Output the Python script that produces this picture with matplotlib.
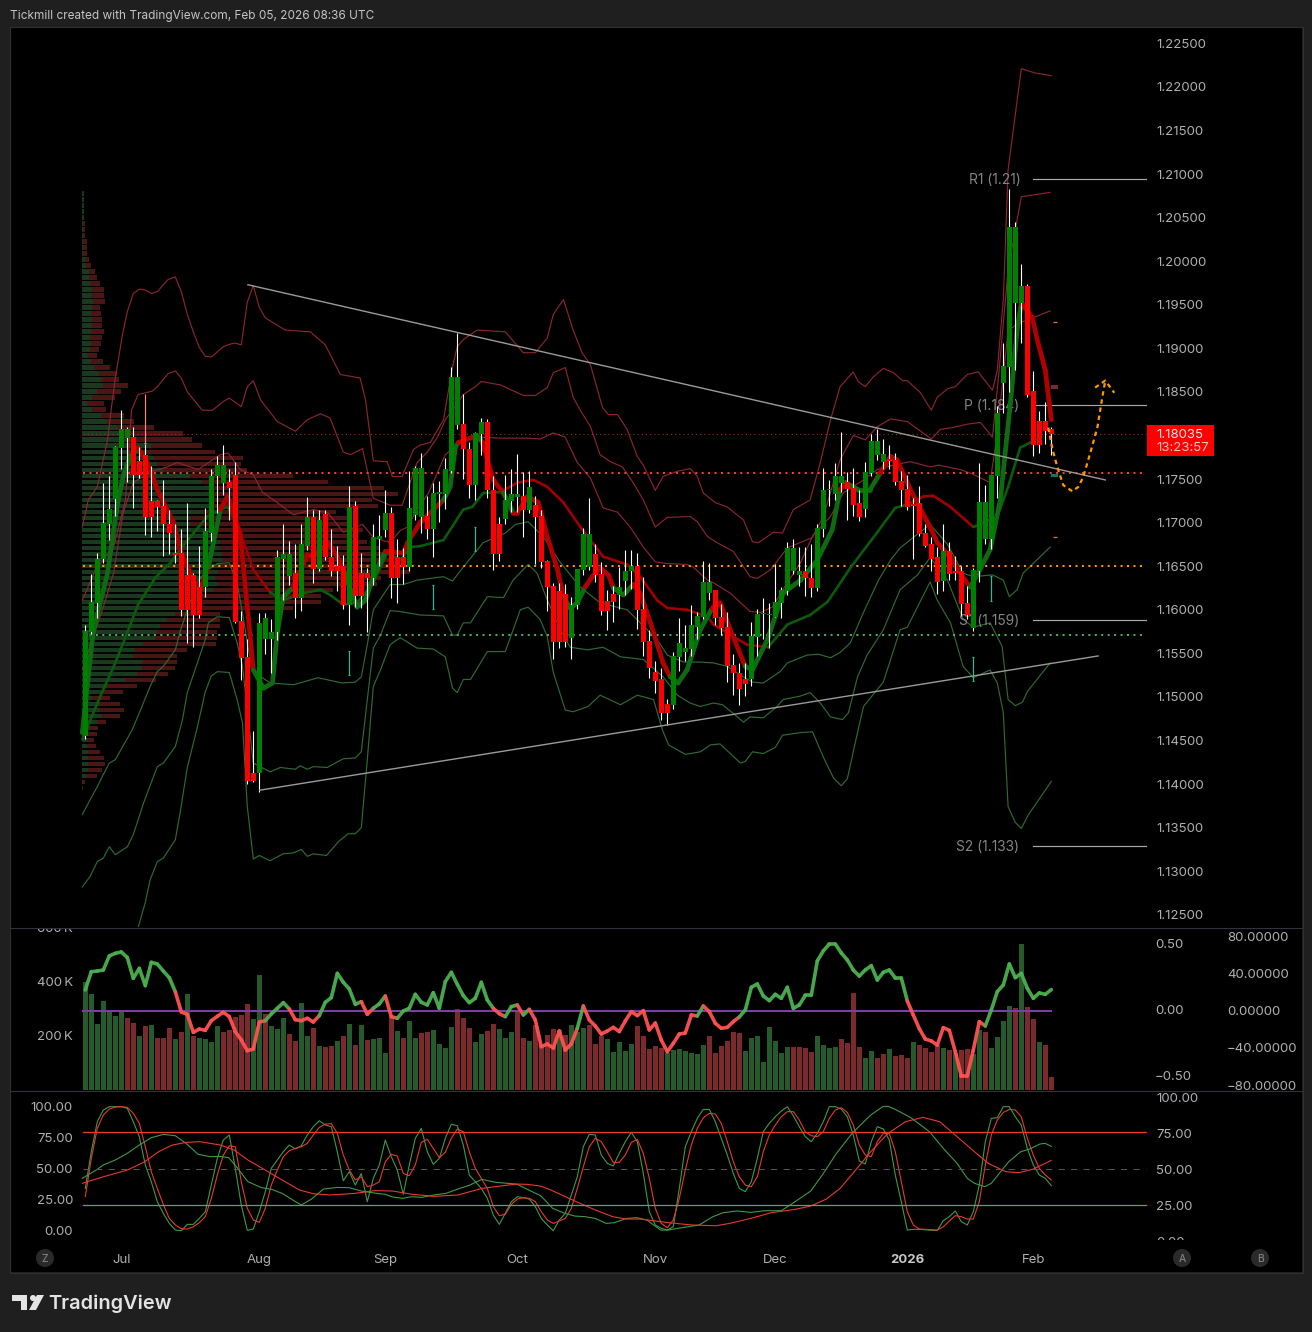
import numpy as np
import matplotlib
matplotlib.use("Agg")
import matplotlib.pyplot as plt
from matplotlib.collections import LineCollection
from matplotlib.patches import Rectangle, Circle, Polygon
from matplotlib.transforms import offset_copy

plt.rcParams['font.family'] = ['Inter', 'DejaVu Sans']

# daily candles
opens = [1.1455,1.1574,1.1608,1.1658,1.1699,1.1727,1.1786,1.1797,1.1798,1.1771,1.1778,1.1725,1.1725,1.1719,1.1699,1.1665,1.1665,1.1640,1.1640,1.1626,
         1.1626,1.1688,1.1753,1.1746,1.1747,1.1755,1.1587,1.1546,1.1413,1.1413,1.1567,1.1567,1.1574,1.1658,1.1639,1.1642,1.1614,1.1673,1.1706,1.1647,
         1.1710,1.1661,1.1650,1.1650,1.1605,1.1719,1.1642,1.1642,1.1637,1.1681,1.1691,1.1711,1.1661,1.1661,1.1649,1.1709,1.1707,1.1708,1.1693,1.1733,
         1.1733,1.1759,1.1812,1.1813,1.1785,1.1743,1.1802,1.1816,1.1738,1.1698,1.1704,1.1725,1.1729,1.1730,1.1714,1.1720,1.1708,1.1656,1.1627,1.1621,
         1.1618,1.1568,1.1605,1.1646,1.1649,1.1664,1.1641,1.1610,1.1618,1.1617,1.1633,1.1644,1.1650,1.1601,1.1564,1.1529,1.1520,1.1492,1.1491,1.1546,
         1.1552,1.1555,1.1580,1.1592,1.1619,1.1623,1.1592,1.1580,1.1537,1.1528,1.1521,1.1520,1.1569,1.1595,1.1594,1.1592,1.1608,1.1622,1.1644,1.1640,
         1.1645,1.1637,1.1625,1.1693,1.1737,1.1733,1.1746,1.1747,1.1740,1.1722,1.1716,1.1757,1.1778,1.1770,1.1773,1.1772,1.1748,1.1739,1.1721,1.1722,
         1.1688,1.1675,1.1660,1.1633,1.1667,1.1644,1.1644,1.1608,1.1579,1.1645,1.1681,1.1681,1.1754,1.1860,1.1879,1.1952,1.1952,1.1971,1.1851,1.1817,
         1.1817,1.1807]
highs = [1.1582,1.1641,1.1665,1.1745,1.1754,1.1788,1.1829,1.1810,1.1810,1.1787,1.1790,1.1765,1.1726,1.1749,1.1714,1.1698,1.1693,1.1722,1.1642,1.1673,
         1.1717,1.1761,1.1776,1.1789,1.1761,1.1770,1.1599,1.1566,1.1461,1.1596,1.1596,1.1589,1.1669,1.1699,1.1679,1.1676,1.1698,1.1729,1.1715,1.1715,
         1.1715,1.1693,1.1673,1.1663,1.1742,1.1725,1.1665,1.1648,1.1698,1.1709,1.1737,1.1718,1.1681,1.1671,1.1759,1.1765,1.1780,1.1731,1.1746,1.1748,
         1.1774,1.1879,1.1918,1.1848,1.1793,1.1804,1.1820,1.1819,1.1754,1.1707,1.1755,1.1762,1.1779,1.1758,1.1759,1.1731,1.1715,1.1657,1.1631,1.1631,
         1.1630,1.1615,1.1647,1.1694,1.1728,1.1676,1.1655,1.1623,1.1627,1.1649,1.1669,1.1669,1.1665,1.1638,1.1577,1.1541,1.1533,1.1498,1.1552,1.1591,
         1.1583,1.1606,1.1598,1.1656,1.1654,1.1623,1.1607,1.1598,1.1549,1.1539,1.1539,1.1586,1.1601,1.1614,1.1608,1.1653,1.1626,1.1678,1.1681,1.1672,
         1.1672,1.1676,1.1699,1.1763,1.1749,1.1769,1.1804,1.1758,1.1763,1.1738,1.1770,1.1802,1.1808,1.1796,1.1789,1.1780,1.1759,1.1755,1.1728,1.1742,
         1.1699,1.1683,1.1672,1.1699,1.1678,1.1662,1.1650,1.1627,1.1648,1.1769,1.1743,1.1755,1.1834,1.1906,1.2083,1.2045,1.1997,1.1974,1.1874,1.1828,
         1.1838,1.1810]
lows = [1.1452,1.1572,1.1591,1.1654,1.1680,1.1708,1.1761,1.1747,1.1717,1.1751,1.1686,1.1683,1.1690,1.1662,1.1664,1.1654,1.1593,1.1562,1.1557,1.1591,
        1.1615,1.1679,1.1711,1.1732,1.1703,1.1585,1.1519,1.1400,1.1402,1.1391,1.1549,1.1528,1.1565,1.1611,1.1629,1.1590,1.1599,1.1669,1.1631,1.1645,
        1.1657,1.1639,1.1622,1.1601,1.1583,1.1603,1.1602,1.1574,1.1629,1.1650,1.1684,1.1613,1.1608,1.1630,1.1644,1.1703,1.1688,1.1681,1.1660,1.1701,
        1.1716,1.1757,1.1808,1.1750,1.1728,1.1726,1.1778,1.1728,1.1646,1.1656,1.1699,1.1712,1.1712,1.1683,1.1711,1.1652,1.1648,1.1599,1.1543,1.1556,
        1.1557,1.1543,1.1601,1.1640,1.1646,1.1632,1.1594,1.1577,1.1586,1.1601,1.1617,1.1624,1.1578,1.1547,1.1522,1.1505,1.1473,1.1468,1.1486,1.1530,
        1.1541,1.1547,1.1566,1.1589,1.1611,1.1583,1.1571,1.1517,1.1502,1.1491,1.1501,1.1512,1.1547,1.1567,1.1556,1.1592,1.1591,1.1617,1.1641,1.1627,
        1.1616,1.1615,1.1622,1.1683,1.1719,1.1726,1.1735,1.1703,1.1708,1.1702,1.1707,1.1753,1.1772,1.1762,1.1761,1.1743,1.1719,1.1715,1.1658,1.1685,
        1.1672,1.1644,1.1618,1.1622,1.1634,1.1634,1.1593,1.1589,1.1576,1.1632,1.1676,1.1670,1.1728,1.1826,1.1850,1.1875,1.1906,1.1844,1.1776,1.1780,
        1.1790,1.1778]
closes = [1.1576,1.1609,1.1658,1.1700,1.1716,1.1787,1.1807,1.1807,1.1755,1.1755,1.1707,1.1707,1.1718,1.1699,1.1688,1.1663,1.1600,1.1600,1.1594,1.1594,
          1.1690,1.1754,1.1766,1.1766,1.1740,1.1586,1.1545,1.1403,1.1403,1.1585,1.1590,1.1575,1.1660,1.1664,1.1664,1.1614,1.1675,1.1706,1.1647,1.1703,
          1.1660,1.1645,1.1645,1.1605,1.1718,1.1616,1.1616,1.1637,1.1683,1.1685,1.1711,1.1636,1.1636,1.1649,1.1717,1.1763,1.1763,1.1693,1.1734,1.1734,
          1.1761,1.1867,1.1867,1.1784,1.1743,1.1803,1.1816,1.1737,1.1664,1.1664,1.1726,1.1733,1.1733,1.1714,1.1741,1.1707,1.1655,1.1626,1.1563,1.1563,
          1.1563,1.1606,1.1647,1.1687,1.1687,1.1640,1.1599,1.1599,1.1609,1.1626,1.1645,1.1650,1.1600,1.1563,1.1533,1.1518,1.1481,1.1481,1.1547,1.1562,
          1.1556,1.1582,1.1593,1.1632,1.1632,1.1591,1.1579,1.1536,1.1527,1.1509,1.1515,1.1570,1.1595,1.1595,1.1595,1.1609,1.1623,1.1671,1.1671,1.1645,
          1.1636,1.1625,1.1694,1.1738,1.1738,1.1753,1.1753,1.1739,1.1720,1.1707,1.1758,1.1794,1.1794,1.1779,1.1771,1.1747,1.1738,1.1718,1.1719,1.1687,
          1.1673,1.1658,1.1632,1.1667,1.1641,1.1642,1.1607,1.1594,1.1646,1.1724,1.1724,1.1755,1.1826,1.1880,1.2039,1.2039,1.1971,1.1847,1.1789,1.1789,
          1.1805,1.1802]

# moving averages, colour flips between green and red at the bar numbers below
ma_fast_x = [-0.5,1.3,3.7,5.3,6.3,7.5,8.8,10.3,12.0,14.7,15.8,18.0,19.2,20.5,22.5,23.7,25.8,27.0,28.0,29.7,31.2,32.0,33.0,34.7,37.0,38.0,40.5,42.0,43.0,45.3,46.7,48.0,50.0,53.0,53.7,55.8,59.7,60.8,61.7,62.2,65.3,66.2,68.0,69.7,71.3,72.0,73.7,75.5,77.0,78.7,79.7,80.8,82.0,83.3,84.5,85.8,87.2,88.0,89.7,91.3,92.5,94.2,96.3,97.5,98.8,100.3,102.5,104.5,105.8,107.5,110.0,111.2,113.7,116.3,119.2,122.0,124.5,125.8,126.7,128.8,130.8,132.5,134.2,135.3,137.5,140.8,142.0,144.2,146.3,147.5,148.8,150.8,152.5,154.2,155.3,156.0,157.8,158.8,160.0,161.0]
ma_fast_y = [1.1459,1.1574,1.1642,1.1718,1.1753,1.1776,1.1786,1.1769,1.1738,1.1700,1.1669,1.1634,1.1623,1.1649,1.1715,1.1730,1.1688,1.1603,1.1531,1.1510,1.1516,1.1574,1.1615,1.1626,1.1663,1.1661,1.1677,1.1661,1.1646,1.1603,1.1611,1.1638,1.1667,1.1665,1.1677,1.1700,1.1726,1.1741,1.1787,1.1792,1.1800,1.1792,1.1749,1.1734,1.1711,1.1711,1.1730,1.1723,1.1684,1.1646,1.1615,1.1602,1.1608,1.1626,1.1638,1.1648,1.1640,1.1625,1.1617,1.1629,1.1619,1.1585,1.1539,1.1523,1.1516,1.1531,1.1577,1.1602,1.1608,1.1577,1.1535,1.1531,1.1566,1.1619,1.1634,1.1657,1.1692,1.1738,1.1746,1.1738,1.1738,1.1757,1.1776,1.1772,1.1738,1.1695,1.1677,1.1660,1.1637,1.1626,1.1642,1.1669,1.1726,1.1838,1.1921,1.1952,1.1936,1.1906,1.1875,1.1818]
ma_fast_flips = [8.8,20.5,23,28,34.5,43.5,50,55,56,60,62.2,64.6,66.5,69.8,71.5,79.5,83.5,88,91,97.5,104.5,110.5,126,127.5,132,147.5,156.5]
ma_slow_x = [-0.5,2.0,5.0,7.0,8.8,11.7,14.2,15.8,20.3,22.5,23.7,25.2,26.7,28.0,30.8,33.0,36.3,39.2,40.8,43.0,45.3,48.0,50.3,52.5,54.2,55.8,59.7,63.0,64.5,66.3,69.2,72.0,74.7,77.0,79.7,82.5,86.3,90.3,92.5,95.3,97.0,100.3,103.7,104.7,108.3,110.3,113.8,117.0,120.8,123.7,127.5,132.0,135.0,136.7,139.7,141.3,144.2,148.0,149.7,152.0,153.8,155.8,157.8,159.2]
ma_slow_y = [1.1451,1.1493,1.1539,1.1574,1.1606,1.1637,1.1654,1.1669,1.1707,1.1715,1.1718,1.1700,1.1672,1.1646,1.1620,1.1611,1.1619,1.1623,1.1617,1.1606,1.1608,1.1631,1.1665,1.1657,1.1672,1.1673,1.1680,1.1715,1.1718,1.1734,1.1735,1.1746,1.1749,1.1741,1.1723,1.1695,1.1661,1.1652,1.1638,1.1611,1.1602,1.1600,1.1592,1.1583,1.1568,1.1560,1.1557,1.1583,1.1594,1.1609,1.1648,1.1689,1.1717,1.1720,1.1730,1.1731,1.1718,1.1695,1.1700,1.1707,1.1741,1.1786,1.1793,1.1798]
ma_slow_flips = [25,31,69,114,136.5,148]

# upper bands
up3_x = [-0.5,0.5,2.0,3.7,4.3,5.0,6.2,7.0,8.0,9.0,10.0,11.0,12.0,13.0,13.8,15.0,16.0,17.0,18.0,19.0,20.0,21.0,23.0,24.2,25.0,26.0,27.0,28.0,29.0,30.0,33.3,37.5,40.0,42.5,45.8,46.7,48.0,50.3,51.2,52.8,54.7,55.8,57.5,59.7,61.2,62.0,63.0,65.3,70.0,73.0,75.0,77.0,78.0,79.7,81.3,82.8,84.2,86.2,87.2,88.7,90.3,92.0,93.0,95.0,96.3,98.7,100.8,102.0,103.0,105.0,107.0,109.7,111.2,112.2,114.7,116.2,118.0,120.8,122.5,124.2,125.8,128.0,128.8,130.0,131.3,133.0,134.7,136.2,137.0,139.2,141.0,142.0,143.8,145.0,147.0,148.8,151.2,152.0,153.0,153.8,156.0,158.3,161.0]
up3_y = [1.1695,1.1726,1.1741,1.1795,1.1829,1.1866,1.1916,1.1942,1.1963,1.1968,1.1967,1.1963,1.1965,1.1973,1.1979,1.1982,1.1965,1.1939,1.1919,1.1901,1.1891,1.1890,1.1902,1.1905,1.1906,1.1904,1.1953,1.1972,1.1947,1.1935,1.1921,1.1919,1.1904,1.1870,1.1866,1.1841,1.1771,1.1770,1.1753,1.1753,1.1784,1.1789,1.1792,1.1818,1.1879,1.1902,1.1910,1.1921,1.1919,1.1895,1.1895,1.1912,1.1939,1.1956,1.1921,1.1895,1.1881,1.1832,1.1824,1.1824,1.1807,1.1776,1.1766,1.1737,1.1753,1.1759,1.1762,1.1753,1.1734,1.1723,1.1718,1.1703,1.1678,1.1677,1.1689,1.1688,1.1715,1.1726,1.1769,1.1818,1.1856,1.1873,1.1862,1.1856,1.1867,1.1877,1.1872,1.1863,1.1863,1.1849,1.1829,1.1844,1.1854,1.1856,1.1870,1.1873,1.1852,1.1875,1.1956,1.2105,1.2221,1.2216,1.2213]
up2_x = [-0.5,1.7,4.7,6.7,7.7,8.8,11.2,12.0,13.8,15.0,16.0,17.0,19.5,21.2,23.0,24.0,26.0,27.0,28.0,29.2,32.0,35.0,37.0,39.2,40.8,43.0,44.2,46.2,48.0,50.8,52.8,55.3,57.0,58.7,60.0,63.0,65.0,66.0,69.2,73.0,75.0,77.0,78.0,80.0,81.3,82.5,84.2,85.8,87.5,89.5,91.3,93.0,95.0,97.0,100.8,102.0,103.7,105.3,108.0,110.8,112.0,114.2,117.0,121.2,123.0,125.8,128.0,130.0,132.0,134.2,137.0,141.0,142.5,144.5,147.0,149.2,151.2,152.2,153.8,156.0,160.8]
up2_y = [1.1611,1.1646,1.1672,1.1726,1.1829,1.1847,1.1851,1.1856,1.1871,1.1874,1.1866,1.1850,1.1829,1.1829,1.1839,1.1843,1.1833,1.1856,1.1863,1.1841,1.1816,1.1805,1.1818,1.1825,1.1820,1.1781,1.1778,1.1785,1.1728,1.1720,1.1720,1.1769,1.1781,1.1798,1.1818,1.1847,1.1856,1.1862,1.1858,1.1846,1.1846,1.1855,1.1872,1.1878,1.1844,1.1829,1.1810,1.1778,1.1770,1.1764,1.1746,1.1726,1.1695,1.1706,1.1707,1.1701,1.1684,1.1677,1.1667,1.1638,1.1636,1.1646,1.1671,1.1683,1.1707,1.1772,1.1800,1.1795,1.1810,1.1819,1.1816,1.1796,1.1807,1.1809,1.1813,1.1815,1.1798,1.1867,1.1990,1.2074,1.2079]
up1_x = [-0.5,0.8,3.0,4.7,6.3,8.0,10.8,13.7,15.3,18.8,22.5,23.8,25.8,28.0,29.5,32.0,34.7,38.0,40.5,43.0,46.2,48.0,50.8,52.5,53.7,55.3,57.2,60.0,62.0,63.3,65.8,69.2,73.7,75.8,78.0,80.0,82.0,84.2,86.3,88.7,90.8,93.0,95.0,97.0,100.3,101.3,103.7,104.7,107.5,110.8,112.5,114.5,117.0,119.2,121.3,124.2,126.3,129.7,132.0,134.7,137.5,140.8,142.2,145.8,147.8,150.8,152.0,153.8,156.0,160.8]
up1_y = [1.1531,1.1558,1.1603,1.1642,1.1711,1.1746,1.1758,1.1764,1.1769,1.1761,1.1778,1.1780,1.1761,1.1755,1.1735,1.1723,1.1709,1.1715,1.1711,1.1689,1.1698,1.1683,1.1677,1.1691,1.1695,1.1715,1.1734,1.1778,1.1789,1.1798,1.1798,1.1797,1.1797,1.1796,1.1803,1.1798,1.1769,1.1751,1.1717,1.1712,1.1695,1.1672,1.1655,1.1653,1.1652,1.1649,1.1634,1.1631,1.1619,1.1598,1.1597,1.1603,1.1631,1.1654,1.1686,1.1707,1.1734,1.1749,1.1761,1.1766,1.1770,1.1764,1.1766,1.1761,1.1756,1.1746,1.1803,1.1921,1.1930,1.1943]

# lower bands
lo1_x = [-0.5,0.8,2.0,3.0,4.0,5.0,7.8,9.2,10.8,12.0,13.0,15.0,15.8,17.0,18.8,20.5,22.0,24.0,25.3,26.3,27.2,28.0,30.8,34.7,38.8,42.8,45.0,46.0,47.0,48.0,50.8,53.0,55.3,59.7,61.2,63.0,66.3,70.0,71.7,73.8,76.3,79.2,82.5,85.8,90.3,92.5,95.3,97.0,99.7,102.5,104.7,107.0,109.7,111.2,113.0,115.8,117.0,120.3,122.2,124.2,125.8,127.5,129.7,132.2,134.2,135.8,138.0,140.8,143.7,146.3,148.0,151.2,153.0,154.0,155.3,156.3,160.8]
lo1_y = [1.1365,1.1382,1.1397,1.1411,1.1424,1.1428,1.1462,1.1485,1.1512,1.1529,1.1535,1.1554,1.1575,1.1600,1.1634,1.1646,1.1653,1.1654,1.1631,1.1592,1.1554,1.1529,1.1516,1.1514,1.1522,1.1516,1.1517,1.1523,1.1560,1.1600,1.1629,1.1629,1.1634,1.1638,1.1633,1.1649,1.1677,1.1688,1.1698,1.1701,1.1684,1.1654,1.1626,1.1608,1.1600,1.1585,1.1566,1.1548,1.1540,1.1540,1.1539,1.1535,1.1523,1.1517,1.1516,1.1529,1.1539,1.1548,1.1549,1.1545,1.1551,1.1562,1.1597,1.1634,1.1657,1.1671,1.1683,1.1698,1.1675,1.1642,1.1638,1.1640,1.1634,1.1615,1.1623,1.1642,1.1672]
lo2_x = [-0.5,0.8,2.0,3.0,4.0,5.0,7.0,8.0,9.7,12.0,13.0,15.0,16.2,17.0,20.0,20.5,22.0,24.0,25.3,26.2,27.2,28.0,30.8,32.5,35.0,35.8,37.0,38.0,40.3,43.0,45.0,46.0,47.0,48.0,49.2,50.8,52.5,55.8,59.7,61.2,62.0,63.0,64.2,67.0,69.7,71.3,73.8,75.3,77.0,79.2,80.8,83.7,86.3,89.2,93.0,96.3,98.7,100.8,102.5,104.7,106.2,108.0,109.7,110.8,113.0,115.3,116.3,119.2,120.8,122.5,124.2,126.2,127.2,128.7,130.3,133.0,135.8,138.7,140.8,143.7,146.3,148.0,150.8,152.8,153.8,155.0,156.2,157.0,160.8]
lo2_y = [1.1282,1.1294,1.1311,1.1315,1.1328,1.1319,1.1328,1.1342,1.1378,1.1420,1.1424,1.1443,1.1474,1.1505,1.1566,1.1585,1.1592,1.1591,1.1562,1.1535,1.1474,1.1424,1.1414,1.1419,1.1417,1.1421,1.1417,1.1420,1.1419,1.1429,1.1430,1.1437,1.1497,1.1556,1.1571,1.1599,1.1598,1.1594,1.1593,1.1571,1.1571,1.1585,1.1585,1.1615,1.1614,1.1634,1.1652,1.1642,1.1611,1.1577,1.1557,1.1554,1.1557,1.1546,1.1543,1.1523,1.1502,1.1493,1.1489,1.1493,1.1491,1.1481,1.1471,1.1477,1.1476,1.1489,1.1497,1.1501,1.1505,1.1493,1.1477,1.1474,1.1482,1.1523,1.1548,1.1577,1.1623,1.1640,1.1660,1.1634,1.1589,1.1580,1.1585,1.1558,1.1497,1.1490,1.1494,1.1506,1.1539]
lo3_x = [7.5,8.7,10.0,10.8,12.0,13.0,15.0,15.8,17.0,18.7,20.0,21.0,22.0,24.0,25.3,26.2,27.0,28.0,29.0,30.8,33.0,34.7,36.0,37.0,38.0,40.2,42.2,43.8,45.0,46.0,47.0,48.0,49.2,50.8,52.5,55.3,58.0,60.0,61.2,62.0,63.0,64.2,67.0,70.0,72.5,73.8,75.8,77.0,78.0,80.0,81.3,83.8,85.8,89.2,92.0,94.7,96.2,97.2,100.0,102.5,104.2,105.8,109.2,110.0,111.2,113.0,115.0,116.2,119.2,121.2,123.0,124.7,126.0,127.0,128.7,129.7,133.0,135.8,137.0,140.8,142.0,144.2,146.3,148.0,150.8,152.0,153.0,153.8,155.0,156.0,157.2,161.0]
lo3_y = [1.1210,1.1233,1.1264,1.1290,1.1311,1.1315,1.1336,1.1367,1.1419,1.1466,1.1506,1.1524,1.1529,1.1528,1.1497,1.1470,1.1374,1.1314,1.1318,1.1312,1.1320,1.1321,1.1325,1.1317,1.1320,1.1318,1.1334,1.1343,1.1343,1.1350,1.1428,1.1512,1.1531,1.1560,1.1568,1.1556,1.1555,1.1546,1.1510,1.1505,1.1520,1.1520,1.1552,1.1552,1.1600,1.1603,1.1589,1.1569,1.1528,1.1485,1.1483,1.1489,1.1502,1.1491,1.1502,1.1497,1.1462,1.1445,1.1434,1.1437,1.1445,1.1446,1.1424,1.1426,1.1437,1.1435,1.1442,1.1456,1.1459,1.1460,1.1431,1.1407,1.1398,1.1406,1.1459,1.1489,1.1517,1.1577,1.1580,1.1632,1.1611,1.1585,1.1535,1.1522,1.1531,1.1516,1.1482,1.1374,1.1356,1.1349,1.1365,1.1403]

# volume profile rows, top to bottom
profile_up = [6,6,6,6,6,2,2,2,2,2,2,8,12,21,22,24,30,30,34,30,28,30,30,28,24,28,24,18,28,36,51,57,64,46,30,16,
              29,57,76,106,114,164,206,194,216,226,246,324,359,384,394,394,394,364,324,324,384,394,414,414,419,419,414,409,399,409,394,364,329,294,279,254,234,224,219,184,156,154,179,179,164,129,74,64,29,54,54,59,44,24,19,14,16,19,19,19,19,12,0,0]
profile_down = [0,0,0,0,0,6,6,6,12,12,12,12,14,17,22,30,36,36,35,24,28,30,30,38,36,28,27,27,35,48,53,54,74,71,69,50,
                43,69,80,110,188,166,154,205,267,251,248,310,380,522,554,475,494,398,470,485,460,430,440,480,495,505,540,575,498,475,358,352,387,340,135,160,180,180,185,218,159,130,105,100,95,93,90,60,55,60,72,55,28,24,25,22,26,35,47,50,41,32,9,2]

pivot_names = ["R1 (1.21)", "P (1.184)", "S1 (1.159)", "S2 (1.133)"]
pivot_prices = [1.2094, 1.1835, 1.1588, 1.1329]
level_prices = [1.1757, 1.1650, 1.1571]
level_colors = ['#ff3b30', '#ff9800', '#4caf50']
last_price = 1.1802

trend_up_x = [27.1, 170.0]
trend_up_y = [1.1973, 1.1749]
trend_lo_x = [29.1, 168.8]
trend_lo_y = [1.1393, 1.1547]

forecast_x = [160.5,161.2,162.0,163.0,164.5,165.5,166.3,167.5,168.7,169.5,170.0]
forecast_y = [1.1809,1.1784,1.1764,1.1743,1.1736,1.1741,1.1752,1.1780,1.1810,1.1844,1.1863]
arrow_x = [168.3, 170.0, 171.5]
arrow_y = [1.1855, 1.1863, 1.1849]

event_bars = [44, 65, 58, 148, 151]
event_top = [1.1553, 1.1695, 1.1629, 1.1546, 1.1639]
event_bottom = [1.1525, 1.1667, 1.1601, 1.1518, 1.1610]

# volume pane
volume = [401,355,244,329,292,274,290,266,248,199,237,241,193,193,229,189,215,355,200,193,189,178,237,215,223,270,278,318,263,426,
          282,237,226,266,207,182,322,200,229,163,160,163,182,200,245,166,241,185,189,193,137,270,219,193,256,193,211,215,223,170,
          156,233,300,266,229,178,207,219,245,226,193,215,292,193,182,241,166,203,226,223,203,241,213,230,241,170,200,189,140,178,
          144,170,237,200,152,163,156,137,148,152,144,137,134,166,200,137,163,182,215,211,144,193,200,104,233,182,137,160,160,160,
          156,140,200,166,156,160,189,174,359,160,118,144,118,134,152,126,130,118,178,166,156,140,166,156,148,137,148,152,134,223,
          215,156,196,256,311,304,541,308,263,178,166,48]
volume_sides = ("gggggggrrg" "rgrrrgrgrg" "gggrrrrrgg" "rgggrrggrg" "rrgrgrgrgg" "grgrggrrgg" "ggrrrggrrg" "ggrrgrrrrg"
                "rgggrrrggg" "ggrrrrrggg" "ggggrrrrrr" "ggggggggrr" "rrggggrrrr" "ggrrgrrrgr" "rrrgrgrrgg" "rggggrgrrg" "rr")

osc = [22.7,42.5,43.2,44.3,59.5,62.3,63.8,57.7,35.3,46.1,27.4,52.6,50.8,43.2,36.0,20.9,-1.1,-3.6,-23.1,-19.5,-20.9,-10.5,-5.8,-1.4,-6.1,-22.3,-31.4,-42.9,-41.1,-11.9,
       -10.5,-3.2,2.9,9.0,2.2,-9.4,-10.5,-7.9,-11.9,-5.0,9.4,14.4,40.7,31.0,23.8,7.2,10.1,-3.6,2.9,7.6,16.2,-6.1,-7.9,0,2.9,18.0,9.4,6.5,19.8,2.9,
       31.7,41.8,28.8,16.6,9.0,13.7,31.0,11.9,2.9,-2.9,-6.1,4.7,6.5,-4.3,1.8,-9.7,-38.6,-35.7,-40.0,-21.6,-42.2,-35.7,-18.7,5.4,-9.7,-16.2,-24.9,-21.6,-17.7,-22.3,
       -10.8,-0.7,-5.0,0.4,-20.5,-13.0,-31.4,-44.0,-35.0,-24.9,-23.8,-4.3,-5.4,5.4,-0.7,-13.3,-18.7,-17.7,-11.5,-6.5,1.1,25.6,29.2,16.2,11.2,18.0,13.7,25.6,2.9,6.5,
       16.9,16.9,54.1,64.9,72.4,72.4,62.7,55.1,44.3,37.8,44.3,49.0,33.5,41.8,44.3,35.7,35.7,10.8,-4.3,-19.1,-30.3,-32.4,-36.8,-18.0,-20.9,-44.0,-70.3,-70.3,-42.2,-11.5,
       -16.2,1.1,20.9,28.1,50.8,36.0,40.7,24.5,13.7,19.5,18.0,23.1]
osc_flips = [15,30,33.7,39,46,48,50,52,68,70,72,73,74,82,83,102,103,109,137,150]

# stochastic pane
stoch_fast_k = [34.1,63.7,87.9,97.3,100,100,100,98.7,87.9,75.8,53.0,39.5,23.4,14.0,5.9,0.5,0,5.1,5.1,9.9,15.3,36.8,58.3,73.1,77.2,50.3,20.7,0.3,1.3,15.3,
                31.5,50.3,57.0,63.7,69.1,65.9,68.5,77.2,83.9,88.7,85.2,83.9,63.7,40.3,47.6,36.8,46.2,23.4,42.2,53.0,73.1,59.7,48.9,29.3,53.0,74.5,82.5,63.7,53.5,58.3,
                74.5,85.8,84.7,69.1,44.9,39.5,34.1,26.1,12.6,5.1,14.0,23.4,27.4,26.6,25.5,
                19.4,9.9,4.6,0,8.6,14.0,28.8,43.5,67.7,77.7,77.2,61.0,54.3,52.2,62.4,71.8,79.3,71.8,46.2,15.3,4.6,1.9,0.5,3.2,34.1,67.7,79.8,90.6,97.8,97.8,87.9,74.5,61.0,46.2,34.1,31.5,39.5,58.3,79.8,86.6,91.9,96.5,100,92.7,83.9,75.8,71.8,78.5,87.9,100,100,98.1,91.9,77.2,56.2,53.8,71.8,83.9,82.0,73.1,44.9,23.4,0.5,1.1,1.1,0.8,0.3,0.3,8.1,11.3,15.9,7.3,4.6,15.3,36.8,71.8,90.6,91.1,100,100,91.9,85.2,66.4,53.0,44.9,42.2,36.3]
stoch_fast_d = [27.4,58.3,82.5,93.3,98.1,99.7,100,99.5,94.6,86.6,67.7,47.6,34.1,21.2,9.9,4.6,1.6,1.3,3.2,6.5,11.3,26.1,44.9,61.0,68.5,67.7,39.5,18.0,8.6,6.7,
                18.0,36.8,48.9,59.7,64.5,66.4,67.7,70.4,77.2,83.3,86.0,86.3,78.5,61.0,48.9,40.9,43.5,35.5,36.8,39.5,55.6,61.6,60.2,46.2,44.4,53.0,71.2,73.7,66.4,58.9,
                63.2,74.5,82.0,79.8,63.7,50.3,42.2,34.1,19.4,12.1,13.2,21.2,25.5,26.6,26.1,
                23.4,15.3,8.6,5.9,7.8,9.9,18.0,34.1,51.6,67.7,74.5,71.8,63.7,55.1,55.1,61.0,71.2,73.7,62.4,42.2,18.0,5.9,2.4,8.6,26.1,48.9,69.1,82.5,91.1,94.6,94.1,86.6,71.8,55.6,43.5,36.8,35.5,43.5,63.7,77.2,85.2,91.9,96.0,96.0,89.2,79.8,76.6,75.8,79.8,90.6,97.3,99.2,95.4,85.2,69.1,61.0,59.7,71.8,78.5,78.5,63.7,39.5,15.3,4.6,1.3,1.1,0.8,0.5,3.2,7.8,12.1,11.3,9.4,9.4,23.4,53.0,77.2,89.2,95.4,97.8,97.3,91.9,74.5,61.0,50.3,44.9,40.9]
stoch_slow_k_x = [-0.5,2,3,5,7,9,11,13,15,16.8,18.8,20.8,22.5,23.9,25.4,27.1,29.4,31.1,32.8,34.6,36,37.7,39.7,42,44,46,48.6,50,51.2,52.9,54.4,56.1,58.1,60.1,62.1,64.1,66.1,68.4,71.9,73.9,75.9,77.9,79.9,81.6,83.3,85,86.8,88.2,90.2,91.9,93.6,95.9,97.1,99.4,102.3,104.6,106.3,108.6,110.9,113.2,116,118.3,120.9,122.9,125.2,127.8,130.9,132.9,133.8,134.9,137.6,140.7,143,145.3,147,148.2,149.9,151,153.9,155.9,157.4,159.1,160,161]
stoch_slow_k_y = [42.2,49.5,53,57,62.4,69.1,75,77.7,76.6,70.4,61.6,59.7,59.9,58.9,50.3,39.5,34.7,33.3,30.1,24.7,20.7,25.5,33.6,34.9,34.7,32,30.1,29.3,27.2,26.1,27.4,26.9,28.8,30.1,33.6,36.8,41.4,39,37.6,32.8,28.2,18,14,11.8,11.3,9.9,5.9,6.5,9.9,10.5,8.6,0.5,0.5,2.4,4.6,11.3,14.5,15.9,14.8,16.1,16.1,23.4,32,45.4,62.4,78.5,93.3,100,100.3,98.1,91.1,79.8,66.4,54.3,42.2,38.2,35.5,38.2,55.6,63.7,65.9,69.9,70.4,68]
stoch_slow_d_x = [-0.5,3,7,9.9,12.2,14.5,16.8,19.1,22.5,24.8,27.1,30,32.8,35.7,38,40.9,44.9,48.3,51.2,54.6,58.1,62.1,66.1,69.6,71.9,73.6,75.9,77.6,81.6,85,87.9,90.2,92.5,97.1,101.1,105.1,107.4,110.9,114.3,118.3,120.9,123.5,125.8,128.4,130.9,133.8,136.7,139.6,142.4,145.3,148.2,150.5,153.4,155.6,157.9,161]
stoch_slow_d_y = [38.2,43.5,48.9,55.6,63.7,69.1,71.2,71.8,69.1,65.1,57,48.9,40.9,32.8,29.8,28.8,30.1,32.3,32,29.3,27.7,28.8,34.1,36.3,37.6,37.4,36,32.8,23.9,16.7,11.3,9.4,9.4,6.5,4.6,4,5.9,9.9,14.5,17.2,19.9,25.5,34.1,48.9,63.7,78.5,87.9,91.4,87.9,75.8,63.7,54.3,47.6,46.8,49.5,56.7]

price_ticks = [1.225,1.22,1.215,1.21,1.205,1.20,1.195,1.19,1.185,1.175,1.17,1.165,1.16,1.155,1.15,1.145,1.14,1.135,1.13,1.125]
month_bars = [6, 29, 50, 72, 95, 115, 137, 158]
month_names = ["Jul", "Aug", "Sep", "Oct", "Nov", "Dec", "2026", "Feb"]
vol_ticks = [600, 400, 200]
osc_ticks = [80, 40, 0, -40, -80]
mid_ticks = [0.5, 0, -0.5]
stoch_left_ticks = [100, 75, 50, 25, 0]
stoch_right_ticks = [100, 75, 50, 25, 0]

BG = '#1f1f1f'
TXT = '#b0b0b0'
UP = '#008000'
DOWN = '#ff0000'
FS = 9.5
W, H = 1312, 1332

fig = plt.figure(figsize=(W / 100, H / 100), dpi=100, facecolor=BG)


def pane(top, bottom):
    a = fig.add_axes([10 / W, 1 - bottom / H, 1292 / W, (bottom - top) / H])
    a.set_facecolor('black')
    a.set_xlim((10 - 85.3) / 6, (1302 - 85.3) / 6)
    a.set_xticks([])
    a.set_yticks([])
    for s in a.spines.values():
        s.set_visible(False)
    return a


def overlay(base):
    a = base.twinx()
    a.set_yticks([])
    a.patch.set_visible(False)
    for s in a.spines.values():
        s.set_visible(False)
    return a


def kx(px):
    return (px - 85.3) / 6


def low(a):
    # labels sit a little under the value they name
    return offset_copy(a.transData, fig=fig, y=-1.5, units='dots')


def flip_line(ax, x, y, flips, lw, first, second, z, alpha=1.0):
    x = np.array(x)
    y = np.array(y)
    pts = np.column_stack([x, y])
    segs = np.stack([pts[:-1], pts[1:]], axis=1)
    mid = (x[:-1] + x[1:]) / 2
    idx = np.searchsorted(flips, mid) % 2
    cols = [first if i == 0 else second for i in idx]
    lc = LineCollection(segs, colors=cols, linewidths=lw, zorder=z, alpha=alpha, capstyle='round', joinstyle='round')
    ax.add_collection(lc)


# page
back = fig.add_axes([0, 0, 1, 1], zorder=-5)
back.set_xlim(0, W)
back.set_ylim(H, 0)
back.axis('off')
back.add_patch(Rectangle((10, 27), 1292, 1245, fc='black', ec='none'))

ax = pane(27, 927)
ax.set_ylim(1.229978 - 0.00011476 * 927, 1.229978 - 0.00011476 * 27)
ax_vol = pane(928, 1090)
ax_vol.set_ylim(0, 600)
ax_osc = overlay(ax_vol)
ax_osc.set_ylim(-85.4, 89.7)
ax_mid = overlay(ax_vol)
ax_mid.set_ylim(-0.606, 0.617)
ax_st = pane(1091, 1240)
ax_st.set_ylim(-7.5, 112.66)
ax_st2 = overlay(ax_st)
ax_st2.set_ylim(0.7, 104.65)

x = np.arange(len(opens))

# volume profile
rows = 1.20775 - 0.000689 * np.arange(len(profile_up))
up_w = np.array(profile_up) / 18
dn_w = np.array(profile_down) / 18
ax.barh(rows, up_w, left=-0.55, height=0.00054, color='#1a3a1f', lw=0, zorder=1)
ax.barh(rows, dn_w, left=-0.55 + up_w, height=0.00054, color='#4a1614', lw=0, zorder=1)

# bands
for bx, by in [(up3_x, up3_y), (up2_x, up2_y), (up1_x, up1_y)]:
    ax.plot(bx, by, color='#8a2530', lw=0.85, zorder=2)
for bx, by in [(lo1_x, lo1_y), (lo2_x, lo2_y), (lo3_x, lo3_y)]:
    ax.plot(bx, by, color='#2f6a33', lw=0.85, zorder=2)

# levels
for p, c in zip(level_prices, level_colors):
    ax.plot([-0.4, 176.8], [p, p], color=c, lw=1.45, ls=(0, (1, 2.2)), zorder=3)
ax.plot([-0.4, 176.8], [last_price, last_price], color='#b02a2a', lw=0.75, ls=(0, (1, 3)), zorder=2)

for i, name in enumerate(pivot_names):
    p = pivot_prices[i]
    ax.plot([158, 176.8], [p, p], color='#a8a8a8', lw=0.85, zorder=3)
    right = 1021 if name.startswith('R1') else 1019
    ax.text(kx(right), p + 0.00008, name, color='#858585', fontsize=9.9, ha='right', va='center', zorder=3, transform=low(ax))

# moving averages under the candles
flip_line(ax, ma_slow_x, ma_slow_y, ma_slow_flips, 1.9, '#0c5a0c', '#a00000', 3)
flip_line(ax, ma_fast_x, ma_fast_y, ma_fast_flips, 3.4, '#0f6b12', '#b00000', 3.5)

# candles
o = np.array(opens)
c = np.array(closes)
cols = [UP if c[i] >= o[i] else DOWN for i in range(len(o))]
ax.vlines(x, lows, highs, colors='white', lw=0.8, zorder=4)
ax.bar(x, np.maximum(np.abs(c - o), 0.00016), bottom=np.minimum(o, c), width=0.78, color=cols, lw=0, zorder=5)

ax.plot(trend_up_x, trend_up_y, color='#9a9a9a', lw=1.0, zorder=6)
ax.plot(trend_lo_x, trend_lo_y, color='#9a9a9a', lw=1.0, zorder=6)

# forecast curve and arrow
ax.plot(forecast_x, forecast_y, color='#ff9800', lw=1.6, ls=(0, (2, 1.7)), zorder=7)
ax.plot(arrow_x, arrow_y, color='#ff9800', lw=1.6, ls=(0, (2, 1.7)), zorder=7)

# small markers
ax.vlines(event_bars, event_bottom, event_top, colors='#19c29a', lw=0.85, zorder=6)
ax.hlines(event_top + event_bottom, np.array(event_bars * 2) - 0.15, np.array(event_bars * 2) + 0.15, colors='#19c29a', lw=0.85, zorder=6)
ax.vlines([10], [1.1791], [1.1848], colors='#ff8a80', lw=0.85, zorder=6)
ax.hlines([1.1791], [9.85], [10.15], colors='#ff8a80', lw=0.85, zorder=6)
ax.hlines([1.1930, 1.1684], [161.2, 161.2], [162.0, 162.0], colors='#e07b1a', lw=0.9, zorder=6)
ax.add_patch(Rectangle((161.0, 1.1853), 1.1, 0.0005, fc='#7a2a30', ec='none', zorder=6))
ax.add_patch(Rectangle((161.0, 1.1752), 1.1, 0.0004, fc='#1f6f66', ec='none', zorder=6))

# price labels
for p in price_ticks:
    ax.text(kx(1156), p, '%.5f' % p, color=TXT, fontsize=FS, va='center', ha='left', zorder=8, transform=low(ax))
ax.add_patch(Rectangle((kx(1147), 1.229978 - 0.00011476 * 455.7), 66.7 / 6, 30.7 * 0.00011476, fc='#ff0000', ec='none', zorder=8))
ax.text(kx(1156.5), 1.1802, '1.18035', color='#ffe6e6', fontsize=FS, va='center', ha='left', zorder=9, transform=low(ax))
ax.text(kx(1156.5), 1.1787, '13:23:57', color='#ffc4c4', fontsize=FS, va='center', ha='left', zorder=9, transform=low(ax))

# volume
vcols = ['#265a2a' if s == 'g' else '#7a2a2a' for s in volume_sides]
ax_vol.bar(np.arange(len(volume)), volume, width=0.8, color=vcols, lw=0, zorder=2)
for v in vol_ticks:
    ax_vol.text(kx(73), v, '%d\u2009K' % v, color=TXT, fontsize=FS, ha='right', va='center', clip_on=True, transform=low(ax_vol))

ax_osc.plot([-0.4, 161], [0, 0], color='#7b3fa0', lw=1.5, zorder=3)
flip_line(ax_osc, np.arange(len(osc)), osc, osc_flips, 2.6, '#4caf50', '#ff5252', 4, alpha=0.95)
for v in osc_ticks:
    s = ('%.5f' % abs(v))
    ax_osc.text(kx(1227), v, ('\u2212' if v < 0 else '') + s, color=TXT, fontsize=FS, ha='left', va='center', transform=low(ax_osc))
for v in mid_ticks:
    s = ('%.2f' % abs(v))
    ax_mid.text(kx(1155), v, ('\u2212' if v < 0 else '') + s, color=TXT, fontsize=FS, ha='left', va='center', transform=low(ax_mid))

# stochastic
ax_st2.plot([-0.4, 176.8], [76, 76], color='#f23b2f', lw=0.9, zorder=2)
ax_st2.plot([-0.4, 176.8], [25, 25], color='#4caf50', lw=0.9, zorder=2)
ax_st2.plot([-0.4, 176.8], [50, 50], color='#555555', lw=0.75, ls=(0, (6, 6)), zorder=2)
ax_st.plot(np.arange(len(stoch_fast_k)), stoch_fast_k, color='#3f9a45', lw=0.8, zorder=3)
ax_st.plot(np.arange(len(stoch_fast_d)), stoch_fast_d, color='#e8392d', lw=0.8, zorder=3)
ax_st.plot(stoch_slow_k_x, stoch_slow_k_y, color='#3f9a45', lw=0.8, zorder=3)
ax_st.plot(stoch_slow_d_x, stoch_slow_d_y, color='#e8392d', lw=0.8, zorder=3)
for v in stoch_left_ticks:
    ax_st.text(kx(73), v, '%.2f' % v, color=TXT, fontsize=FS, ha='right', va='center', transform=low(ax_st))
for v in stoch_right_ticks:
    ax_st2.text(kx(1156), v, '%.2f' % v, color=TXT, fontsize=FS, ha='left', va='center', clip_on=True, transform=low(ax_st2))

# page furniture on top
top = fig.add_axes([0, 0, 1, 1], zorder=10)
top.set_xlim(0, W)
top.set_ylim(H, 0)
top.axis('off')
top.add_patch(Rectangle((9.5, 26.5), 1293, 1246, fc='none', ec='#303030', lw=0.8))
top.plot([10, 1302], [927.5, 927.5], color='#30333c', lw=0.8)
top.plot([10, 1302], [1090.5, 1090.5], color='#30333c', lw=0.8)
top.text(10, 16.5, "Tickmill created with TradingView.com, Feb 05, 2026 08:36 UTC", color='#c4c4c4', fontsize=8.5, va='center', ha='left')

for b, name in zip(month_bars, month_names):
    top.text(85.3 + 6 * b, 1260, name, color='#c8c8c8' if name == '2026' else TXT, fontsize=FS,
             fontweight='bold' if name == '2026' else 'normal', ha='center', va='center')
for cx, name in [(45, 'Z'), (1182, 'A'), (1260, 'B')]:
    top.add_patch(Circle((cx, 1258), 9, fc='#2a2a2a', ec='none'))
    top.text(cx, 1259.5, name, color='#8a8a8a', fontsize=7.5, ha='center', va='center')

# logo
top.add_patch(Polygon([(12, 1295), (27, 1295), (27, 1310), (21, 1310), (21, 1301), (12, 1301)], fc='#e4e4e4', ec='none'))
top.add_patch(Circle((33, 1298), 3, fc='#e4e4e4', ec='none'))
top.add_patch(Polygon([(37, 1295), (44, 1295), (36, 1310), (29, 1310)], fc='#e4e4e4', ec='none'))
top.text(48, 1303.5, "TradingView", color='#e4e4e4', fontsize=14.4, fontweight='semibold', va='center', ha='left')

fig.savefig('out.png', dpi=100, facecolor=BG)
